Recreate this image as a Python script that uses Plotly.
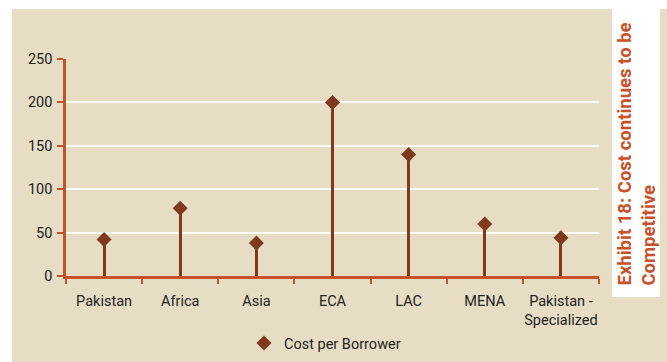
import plotly.graph_objects as go

# Cost per borrower by region
categories = ["Pakistan", "Africa", "Asia", "ECA", "LAC", "MENA", "Pakistan -<br>Specialized"]
cost_per_borrower = [42, 78, 38, 200, 140, 60, 44]
y_ticks = [0, 50, 100, 150, 200, 250]

BEIGE = "#E7DDC4"
AXIS = "#C4532B"
MARK = "#7F3A1E"
TITLE = "#C8502A"
FONT = "Roboto"

# plot area in pixels (used to place items outside the plot area)
W, H = 667, 362
L, R, T, B = 66, 599, 59, 276


def px_x(px):
    return (px - L) / (R - L)


def px_y(py):
    return (B - py) / (B - T)


fig = go.Figure()

# vertical stems from the axis up to each value
fig.add_trace(go.Bar(
    x=categories,
    y=cost_per_borrower,
    width=0.04,
    marker=dict(color=MARK, line=dict(width=0)),
    showlegend=False,
    hoverinfo="skip",
))

# diamond markers at each value
fig.add_trace(go.Scatter(
    x=categories,
    y=cost_per_borrower,
    mode="markers",
    name="Cost per Borrower",
    marker=dict(symbol="diamond", size=11.5, color=MARK),
))

# white margins around the beige panel
shapes = [
    dict(type="rect", xref="paper", yref="paper",
         x0=px_x(0), x1=px_x(12), y0=px_y(H), y1=px_y(0),
         fillcolor="white", line=dict(width=0), layer="below"),
    dict(type="rect", xref="paper", yref="paper",
         x0=px_x(0), x1=px_x(W), y0=px_y(9), y1=px_y(0),
         fillcolor="white", line=dict(width=0), layer="below"),
    dict(type="rect", xref="paper", yref="paper",
         x0=px_x(612), x1=px_x(660), y0=px_y(297), y1=px_y(0),
         fillcolor="white", line=dict(width=0), layer="below"),
]

fig.add_annotation(
    xref="paper", yref="paper",
    x=px_x(636), y=px_y(288),
    xanchor="center", yanchor="bottom",
    text="<b>Exhibit 18: Cost continues to be<br>Competitive</b>",
    textangle=-90,
    align="left",
    showarrow=False,
    font=dict(family=FONT, size=18.5, color=TITLE),
)

fig.update_layout(
    width=W, height=H,
    margin=dict(l=L, r=W - R, t=T, b=H - B, pad=0, autoexpand=False),
    paper_bgcolor=BEIGE,
    plot_bgcolor=BEIGE,
    font=dict(family=FONT, size=14.5, color="#222222"),
    shapes=shapes,
    bargap=0,
    legend=dict(
        orientation="h",
        xref="container", yref="container",
        x=325 / W, xanchor="center",
        y=1 - 343 / H, yanchor="middle",
        bgcolor="rgba(0,0,0,0)",
        font=dict(family=FONT, size=14.5, color="#222222"),
    ),
)

fig.update_xaxes(
    type="category",
    tickson="boundaries",
    tickangle=0,
    ticks="outside",
    ticklen=5,
    tickwidth=2,
    tickcolor=AXIS,
    showline=True,
    linecolor=AXIS,
    linewidth=2.5,
    showgrid=False,
    ticklabelstandoff=10,
    range=[-0.5, len(categories) - 0.5],
)

fig.update_yaxes(
    range=[0, 250],
    tickvals=y_ticks,
    ticks="outside",
    ticklen=6,
    tickwidth=2,
    tickcolor=AXIS,
    showline=True,
    linecolor=AXIS,
    linewidth=2.5,
    showgrid=True,
    gridcolor="white",
    gridwidth=2,
    zeroline=False,
    ticklabelstandoff=2,
)

fig.write_html("out.html")
